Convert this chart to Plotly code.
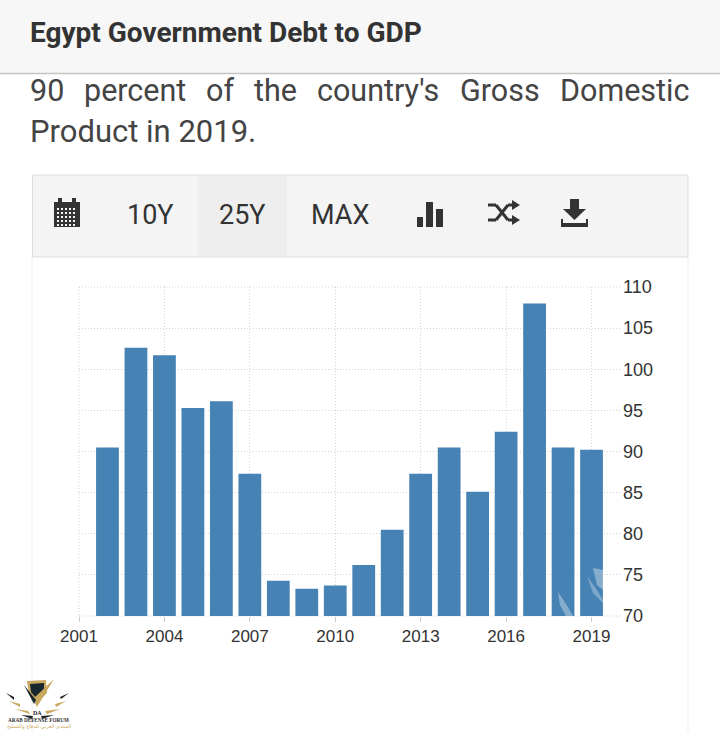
import plotly.graph_objects as go

W, H = 720, 732

years = [2002, 2003, 2004, 2005, 2006, 2007, 2008, 2009, 2010, 2011, 2012, 2013, 2014, 2015, 2016, 2017, 2018, 2019]
debt = [90.5, 102.6, 101.7, 95.3, 96.1, 87.3, 74.3, 73.3, 73.7, 76.2, 80.5, 87.3, 90.5, 85.1, 92.4, 108.0, 90.5, 90.2]
year_ticks = [2001, 2004, 2007, 2010, 2013, 2016, 2019]
pct_ticks = [70, 75, 80, 85, 90, 95, 100, 105, 110]

title = "Egypt Government Debt to GDP"
sentence_words = ["90", "percent", "of", "the", "country's", "Gross", "Domestic"]
sentence_x = [28, 82, 204, 252, 315, 458, 558]
sentence_end = "Product in 2019."
buttons = ["10Y", "25Y", "MAX"]
button_x = [150, 242, 340]


def px(x):
    return x / W


def py(y):
    return 1 - y / H


def rect(x0, y0, x1, y1, fill, line=None, layer="below"):
    return dict(type="rect", xref="paper", yref="paper", x0=px(x0), y0=py(y0), x1=px(x1), y1=py(y1),
                fillcolor=fill, line=dict(width=1 if line else 0, color=line or fill), layer=layer)


def poly(points, fill, layer="above"):
    d = "M" + " L".join(f"{px(x):.5f},{py(y):.5f}" for x, y in points) + " Z"
    return dict(type="path", xref="paper", yref="paper", path=d, fillcolor=fill, line=dict(width=0), layer=layer)


def seg(x0, y0, x1, y1, color, width=1, dash="solid", layer="above"):
    return dict(type="line", xref="paper", yref="paper", x0=px(x0), y0=py(y0), x1=px(x1), y1=py(y1),
                line=dict(color=color, width=width, dash=dash), layer=layer)


def label(x, y, text, size, color="#333333", family="Roboto", anchor="left"):
    return dict(xref="paper", yref="paper", x=px(x), y=py(y), text=text, showarrow=False,
                xanchor=anchor, yanchor="middle", font=dict(size=size, color=color, family=family))


ICON = "#333333"
GRID = "#d4d4d4"
DOTS = "1px,2px"
shapes = [
    # page header and chart card
    rect(0, 0, 720, 73, "#f7f7f7"),
    seg(0, 73.5, 720, 73.5, "#c4c4c4", 1.5),
    seg(32, 257, 32, 732, "#eeeeee"),
    seg(688, 257, 688, 732, "#eeeeee"),
    rect(32.5, 175, 688, 257, "#f4f4f4", "#dddddd"),
    rect(198, 176, 287, 256, "#eeeeee"),
    # grid lines plotly drops at the ends of the ranges
    seg(79, 287, 620, 287, GRID, 1, DOTS, "below"),
    seg(79, 616, 620, 616, GRID, 1, DOTS, "below"),
    seg(79, 287, 79, 616, GRID, 1, DOTS, "below"),
    # calendar
    rect(54, 202, 80, 227, ICON, layer="above"),
    rect(58, 198, 62, 204, ICON, layer="above"),
    rect(72, 198, 76, 204, ICON, layer="above"),
    # bars icon
    rect(417, 217, 423, 227, ICON, layer="above"),
    rect(426, 202, 433, 227, ICON, layer="above"),
    rect(436, 209, 443, 227, ICON, layer="above"),
    # shuffle
    seg(488, 205, 496, 205, ICON, 3),
    seg(496, 205, 508, 220, ICON, 3),
    seg(508, 220, 513, 220, ICON, 3),
    seg(488, 220, 496, 220, ICON, 3),
    seg(496, 220, 508, 205, ICON, 3),
    seg(508, 205, 513, 205, ICON, 3),
    poly([(512, 200), (520, 205), (512, 210)], ICON),
    poly([(512, 215), (520, 220), (512, 225)], ICON),
    # download
    poly([(570, 199), (579, 199), (579, 209), (586, 209), (574.5, 220), (563, 209), (570, 209)], ICON),
    rect(561, 223, 588, 227, ICON, layer="above"),
    seg(562, 219, 562, 224, ICON, 2),
    seg(587, 219, 587, 224, ICON, 2),
    # watermark over the last bars
    poly([(558, 592), (566, 604), (573, 616), (566, 616), (560, 605)], "rgba(255,255,255,0.35)"),
    poly([(593, 568), (603, 570), (603, 590), (597, 585)], "rgba(255,255,255,0.35)"),
    poly([(587, 576), (597, 590), (603, 600), (603, 603), (593, 593)], "rgba(255,255,255,0.3)"),
    # forum logo
    poly([(27, 681), (46, 680), (47, 693), (37, 703), (29, 694)], "#c9a860"),
    poly([(30, 684), (44, 683), (44, 692), (37, 699), (31, 692)], "#16272e"),
    poly([(54, 679), (37, 707), (33, 699)], "#c9a860"),
    poly([(24, 685), (36, 700), (34, 704)], "#16272e"),
    poly([(6, 693), (14, 697), (14, 700)], "#222222"),
    poly([(69, 693), (61, 699), (60, 697)], "#222222"),
    poly([(9, 701), (20, 704), (20, 707)], "#c9a860"),
    poly([(66, 701), (56, 707), (55, 704)], "#c9a860"),
    poly([(15, 709), (28, 711), (30, 714)], "#c9a860"),
    poly([(60, 709), (47, 714), (45, 711)], "#c9a860"),
    poly([(21, 715), (33, 716), (32, 719)], "#222222"),
    poly([(54, 715), (42, 719), (41, 716)], "#222222"),
]

# grid of cells on the calendar
for cx in range(57, 77, 4):
    for cy in range(208, 225, 4):
        shapes.append(rect(cx, cy, cx + 2, cy + 2, "#f4f4f4", layer="above"))

annotations = [
    label(28, 33, f"<b>{title}</b>", 28),
    label(28, 131, sentence_end, 31, "#444444"),
    label(37.5, 713, "<b>DA</b>", 6, "#222222", "Liberation Serif", "center"),
    label(38.5, 720, "<b>ARAB DEFENSE FORUM</b>", 5.2, "#333333", "Liberation Serif", "center"),
    label(38.5, 726, "المنتدى العربي للدفاع والتسليح", 5, "#c9a860", "DejaVu Sans", "center"),
]
for word, x in zip(sentence_words, sentence_x):
    annotations.append(label(x, 91, word, 30.5, "#444444"))
for text, x in zip(buttons, button_x):
    annotations.append(label(x, 215, text, 27, "#333333", "Roboto", "center"))

fig = go.Figure()
fig.add_trace(go.Bar(x=years, y=debt, width=0.8, marker=dict(color="#4682b4", line=dict(width=0))))

fig.update_layout(
    width=W,
    height=H,
    margin=dict(l=0, r=0, t=0, b=0),
    paper_bgcolor="white",
    plot_bgcolor="rgba(0,0,0,0)",
    showlegend=False,
    shapes=shapes,
    annotations=annotations,
    xaxis=dict(
        domain=[px(79), px(620)],
        range=[2001, 2020],
        automargin=False,
        tickvals=year_ticks,
        ticks="outside",
        ticklen=5,
        tickcolor="#cccccc",
        tickfont=dict(size=17, color="#333333", family="Liberation Sans"),
        showgrid=True,
        griddash=DOTS,
        gridcolor=GRID,
        zeroline=False,
        showline=False,
    ),
    yaxis=dict(
        domain=[py(616), py(287)],
        range=[70, 110],
        automargin=False,
        side="right",
        tickvals=pct_ticks,
        ticks="",
        ticklabelstandoff=2,
        tickfont=dict(size=18, color="#333333", family="Liberation Sans"),
        showgrid=True,
        griddash=DOTS,
        gridcolor=GRID,
        zeroline=False,
        showline=False,
    ),
)

fig.write_html("out.html", config=dict(displayModeBar=False), post_script="document.body.style.margin='0';")
